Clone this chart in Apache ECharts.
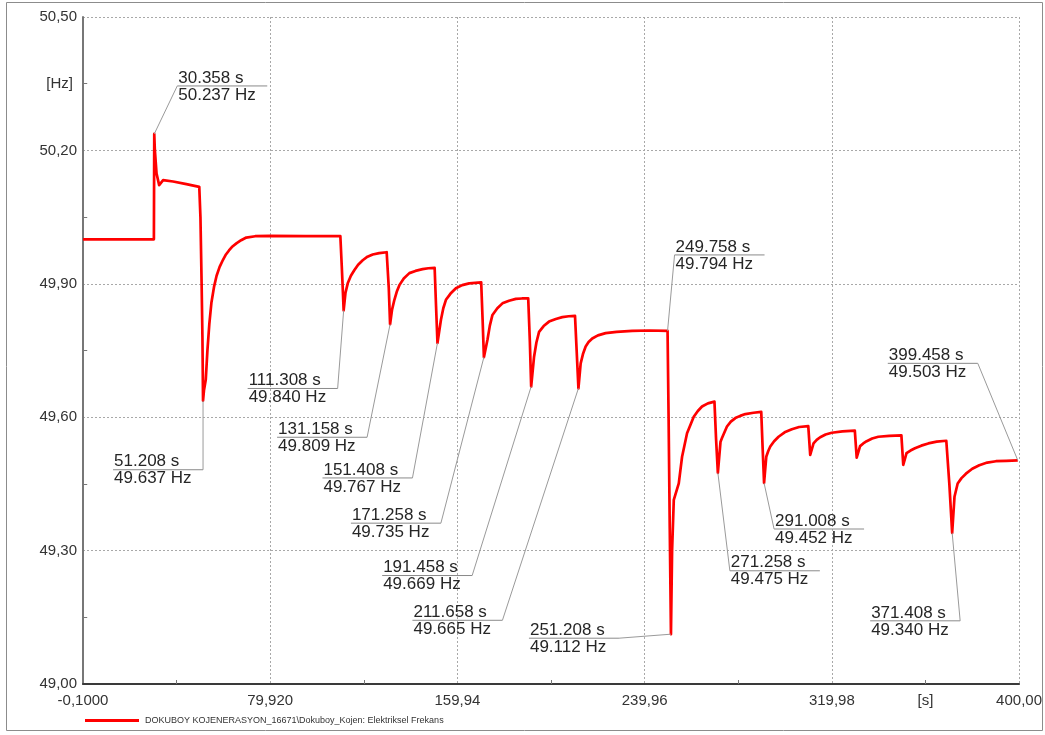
<!DOCTYPE html>
<html>
<head>
<meta charset="utf-8">
<title>Elektriksel Frekans</title>
<script src="https://cdn.jsdelivr.net/npm/echarts@6/dist/echarts.min.js"></script>
<style>
  html, body { margin: 0; padding: 0; background: #ffffff; }
  #chart { width: 1045px; height: 735px; }
</style>
</head>
<body>
<div id="chart"></div>
<script>
// Recorded generator frequency: time [s] and frequency [Hz]
const timeS = [
  -0.1, 30.2, 30.358, 30.61, 31.34, 32.45, 34.15, 38.4, 44.1, 49.6,
  50.1, 50.6, 50.95, 51.208, 51.6, 52.37, 53.09, 53.9, 54.8, 55.9,
  57.0, 58.3, 59.75, 61.0, 62.3, 63.8, 65.46, 67.5, 69.7, 73.5,
  79.7, 95.0, 109.9, 110.5, 111.0, 111.308, 112.1, 113.06, 114.4, 115.92,
  117.5, 119.46, 121.5, 123.73, 126.5, 129.7, 130.1, 130.6, 131.158, 132.0,
  133.0, 134.0, 135.13, 137.0, 139.4, 142.0, 145.05, 147.5, 150.2, 150.8,
  151.408, 152.9, 153.9, 155.03, 157.0, 159.3, 162.0, 164.97, 167.5, 170.1,
  170.7, 171.258, 172.78, 173.8, 174.91, 177.0, 179.18, 182.0, 184.9, 187.5,
  190.2, 190.9, 191.458, 192.7, 193.7, 194.84, 196.8, 199.1, 202.0, 204.77,
  207.5, 210.2, 210.9, 211.658, 212.62, 213.6, 214.75, 216.0, 217.57, 220.0,
  223.28, 228.0, 234.63, 242.0, 249.758, 250.2, 250.7, 251.208, 251.7, 252.42,
  254.55, 255.96, 258.09, 260.95, 262.7, 264.49, 267.0, 269.8, 270.5, 271.258,
  272.4, 273.02, 275.15, 276.8, 278.73, 280.8, 283.0, 286.5, 289.8, 290.4,
  291.008, 291.95, 292.8, 293.66, 295.3, 297.2, 299.8, 302.88, 306.0, 309.9,
  310.73, 312.15, 313.5, 315.0, 317.3, 319.94, 324.5, 329.8, 330.6, 332.05,
  333.4, 334.87, 337.2, 339.86, 344.5, 349.7, 350.5, 351.9, 353.6, 355.5,
  358.2, 361.2, 364.8, 368.9, 370.2, 371.408, 372.4, 373.76, 375.4, 377.3,
  380.0, 383.0, 386.4, 390.1, 394.5, 399.458
];
const freqHz = [
  50.000, 50.000, 50.237, 50.201, 50.148, 50.122, 50.133, 50.130, 50.124, 50.118,
  50.050, 49.900, 49.780, 49.637, 49.660, 49.684, 49.751, 49.810, 49.858, 49.893,
  49.918, 49.938, 49.954, 49.966, 49.975, 49.984, 49.991, 49.998, 50.004, 50.007,
  50.008, 50.007, 50.007, 49.940, 49.880, 49.840, 49.880, 49.901, 49.918, 49.931,
  49.943, 49.953, 49.961, 49.966, 49.969, 49.971, 49.971, 49.890, 49.809, 49.842,
  49.864, 49.882, 49.897, 49.912, 49.924, 49.929, 49.933, 49.935, 49.936, 49.850,
  49.767, 49.819, 49.845, 49.864, 49.878, 49.890, 49.897, 49.901, 49.902, 49.903,
  49.820, 49.735, 49.774, 49.806, 49.830, 49.845, 49.856, 49.862, 49.866, 49.867,
  49.867, 49.770, 49.669, 49.736, 49.768, 49.792, 49.805, 49.815, 49.821, 49.825,
  49.827, 49.828, 49.750, 49.665, 49.721, 49.742, 49.759, 49.769, 49.777, 49.784,
  49.789, 49.792, 49.794, 49.795, 49.794, 49.600, 49.350, 49.112, 49.301, 49.414,
  49.451, 49.511, 49.564, 49.601, 49.614, 49.624, 49.631, 49.635, 49.550, 49.475,
  49.545, 49.553, 49.579, 49.590, 49.598, 49.603, 49.607, 49.610, 49.612, 49.530,
  49.452, 49.511, 49.524, 49.534, 49.546, 49.556, 49.566, 49.573, 49.578, 49.580,
  49.515, 49.541, 49.549, 49.555, 49.561, 49.565, 49.568, 49.570, 49.509, 49.535,
  49.541, 49.546, 49.552, 49.556, 49.558, 49.559, 49.493, 49.519, 49.525, 49.530,
  49.536, 49.541, 49.545, 49.547, 49.450, 49.340, 49.421, 49.451, 49.463, 49.473,
  49.484, 49.492, 49.498, 49.501, 49.502, 49.503
];

// Axis ticks and labels
const xTickValues = [-0.1, 79.92, 159.94, 239.96, 319.98, 400.0];
const xTickLabels = ['-0,1000', '79,920', '159,94', '239,96', '319,98', '400,00'];
const xMinorValues = [39.91, 119.93, 199.95, 279.97, 359.99];
const yTickValues = [49.0, 49.3, 49.6, 49.9, 50.2, 50.5];
const yTickLabels = ['49,00', '49,30', '49,60', '49,90', '50,20', '50,50'];
const yMinorValues = [49.15, 49.45, 49.75, 50.05, 50.35];
const xUnit = '[s]';
const xUnitValue = 359.99;
const yUnit = '[Hz]';
const yUnitValue = 50.35;

const seriesName = 'DOKUBOY KOJENERASYON_16671\\Dokuboy_Kojen: Elektriksel Frekans';

// Cursor readouts: time [s] and frequency [Hz]
const markTimes = [30.358, 51.208, 111.308, 131.158, 151.408, 171.258, 191.458,
  211.658, 249.758, 251.208, 271.258, 291.008, 371.408, 399.458];
const markFreqs = [50.237, 49.637, 49.840, 49.809, 49.767, 49.735, 49.669,
  49.665, 49.794, 49.112, 49.475, 49.452, 49.340, 49.503];

// Readout placement: pixel offset of the underline start from the point,
// and the end of the underline the leader line leaves from
const markLayout = [
  [23, -48, 'L'], [-90, 69, 'R'], [-96, 78, 'R'], [-113, 113, 'R'],
  [-115, 135, 'R'], [-133, 166, 'R'], [-149, 189, 'R'], [-166, 232, 'R'],
  [7, -76, 'L'], [-142, 4, 'R'], [12, 98, 'L'], [10, 46, 'L'],
  [-82, 88, 'R'], [-130, -97, 'R']
];

const FONT = '"Liberation Sans", Arial, sans-serif';

function labelFor(values, labels, v) {
  let best = 0;
  for (let i = 1; i < values.length; i++) {
    if (Math.abs(values[i] - v) < Math.abs(values[best] - v)) best = i;
  }
  return labels[best];
}

const chart = echarts.init(document.getElementById('chart'), null, { renderer: 'canvas' });

const gridLine = { show: true, lineStyle: { color: '#a8a8a8', width: 1, type: [2, 2] } };
const tickText = { fontFamily: FONT, fontSize: 15, color: '#333333' };

chart.setOption({
  animation: false,
  backgroundColor: '#ffffff',
  grid: { left: 83, right: 24, top: 17, bottom: 51, containLabel: false },
  legend: {
    left: 80, top: 711,
    itemWidth: 54, itemHeight: 3, itemGap: 10,
    icon: 'rect',
    textStyle: { fontFamily: FONT, fontSize: 9, color: '#333333', padding: [0, 0, 0, 1] },
    data: [seriesName]
  },
  xAxis: [
    {
      type: 'value', min: -0.1, max: 400.0, position: 'bottom',
      axisLine: { show: true, lineStyle: { color: '#3a3a3a', width: 2 } },
      axisTick: { show: false, customValues: xTickValues },
      axisLabel: Object.assign({
        customValues: xTickValues, margin: 9,
        formatter: v => labelFor(xTickValues, xTickLabels, v)
      }, tickText),
      splitLine: gridLine
    },
    {
      type: 'value', min: -0.1, max: 400.0, position: 'bottom', offset: 0,
      axisLine: { show: false },
      axisTick: { show: true, inside: true, length: 4, customValues: xMinorValues,
        lineStyle: { color: '#777777', width: 1 } },
      axisLabel: Object.assign({ customValues: [xUnitValue], margin: 9, formatter: () => xUnit }, tickText),
      splitLine: { show: false }
    }
  ],
  yAxis: [
    {
      type: 'value', min: 49.0, max: 50.5, position: 'left',
      axisLine: { show: true, lineStyle: { color: '#777777', width: 2 } },
      axisTick: { show: false, customValues: yTickValues },
      axisLabel: Object.assign({
        customValues: yTickValues, margin: 6,
        formatter: v => labelFor(yTickValues, yTickLabels, v)
      }, tickText),
      splitLine: gridLine
    },
    {
      type: 'value', min: 49.0, max: 50.5, position: 'left', offset: 0,
      axisLine: { show: false },
      axisTick: { show: true, inside: true, length: 4, customValues: yMinorValues,
        lineStyle: { color: '#777777', width: 1 } },
      axisLabel: Object.assign({ customValues: [yUnitValue], margin: 10, formatter: () => yUnit }, tickText),
      splitLine: { show: false }
    }
  ],
  series: [{
    name: seriesName,
    type: 'line',
    xAxisIndex: 0, yAxisIndex: 0,
    showSymbol: false,
    symbol: 'none',
    itemStyle: { color: '#ff0000' },
    lineStyle: { color: '#ff0000', width: 2.7, join: 'round' },
    data: timeS.map((t, i) => [t, freqHz[i]])
  }]
});

// Frame and cursor readouts
const UNDERLINE = 90;
const elements = [{
  type: 'rect', silent: true, z: 0,
  shape: { x: 6.5, y: 2.5, width: 1036, height: 728 },
  style: { fill: 'none', stroke: '#8c8c8c', lineWidth: 1 }
}];

markTimes.forEach((t, i) => {
  const f = markFreqs[i];
  const p = chart.convertToPixel({ xAxisIndex: 0, yAxisIndex: 0 }, [t, f]);
  const [dx, dy, side] = markLayout[i];
  const ux = p[0] + dx, uy = p[1] + dy;
  const ax = side === 'L' ? ux : ux + UNDERLINE;
  elements.push({
    type: 'line', silent: true, z: 10,
    shape: { x1: ux, y1: uy, x2: ux + UNDERLINE, y2: uy },
    style: { stroke: '#8a8a8a', lineWidth: 1 }
  });
  elements.push({
    type: 'line', silent: true, z: 10,
    shape: { x1: ax, y1: uy, x2: p[0], y2: p[1] },
    style: { stroke: '#9a9a9a', lineWidth: 1 }
  });
  elements.push({
    type: 'text', silent: true, z: 11,
    x: ux + 1, y: uy - 8,
    style: { text: t.toFixed(3) + ' s', font: '17px ' + FONT, fill: '#262626',
      textAlign: 'left', textVerticalAlign: 'middle' }
  });
  elements.push({
    type: 'text', silent: true, z: 11,
    x: ux + 1, y: uy + 9,
    style: { text: f.toFixed(3) + ' Hz', font: '17px ' + FONT, fill: '#262626',
      textAlign: 'left', textVerticalAlign: 'middle' }
  });
});

chart.setOption({ graphic: { elements: elements } });
</script>
</body>
</html>
